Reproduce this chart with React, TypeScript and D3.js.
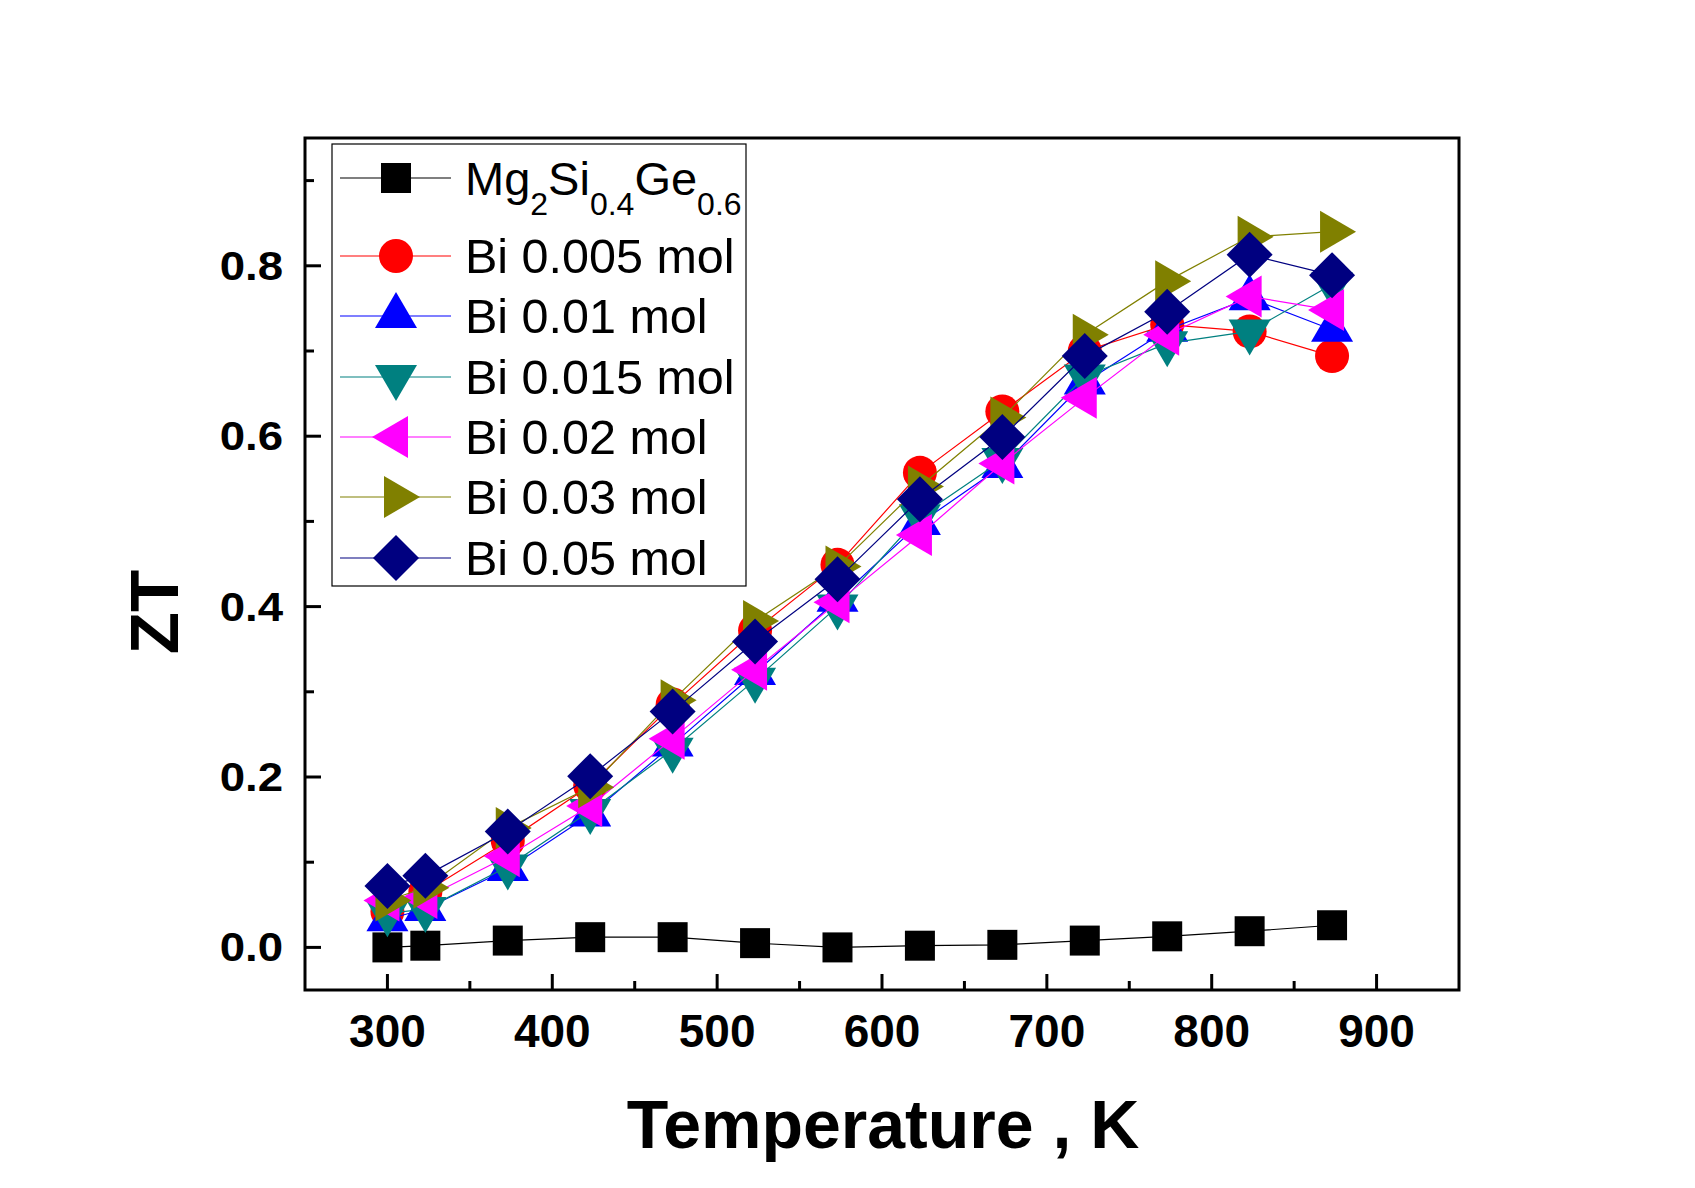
import React from 'react';
import * as d3 from 'd3';

// ---- data ----
const temperatures = [300, 323, 373, 423, 473, 523, 573, 623, 673, 723, 773, 823, 873];
const ztUndoped = [0.0, 0.002, 0.008, 0.012, 0.012, 0.005, 0.0, 0.002, 0.003, 0.008, 0.013, 0.019, 0.026];
const ztBi0005 = [0.042, 0.065, 0.125, 0.19, 0.285, 0.372, 0.449, 0.557, 0.629, 0.7, 0.731, 0.723, 0.694];
const ztBi001 = [0.033, 0.045, 0.092, 0.156, 0.238, 0.322, 0.408, 0.498, 0.565, 0.663, 0.725, 0.762, 0.725];
const ztBi0015 = [0.04, 0.045, 0.095, 0.16, 0.232, 0.314, 0.4, 0.506, 0.572, 0.67, 0.709, 0.723, 0.778];
const ztBi002 = [0.055, 0.058, 0.107, 0.166, 0.245, 0.326, 0.405, 0.484, 0.568, 0.645, 0.719, 0.764, 0.748];
const ztBi003 = [0.055, 0.07, 0.14, 0.188, 0.29, 0.383, 0.447, 0.541, 0.622, 0.719, 0.782, 0.834, 0.84];
const ztBi005 = [0.072, 0.084, 0.136, 0.201, 0.277, 0.359, 0.432, 0.526, 0.599, 0.694, 0.746, 0.813, 0.789];

const seriesLabels = ['Mg2Si0.4Ge0.6', 'Bi 0.005 mol', 'Bi 0.01 mol', 'Bi 0.015 mol', 'Bi 0.02 mol', 'Bi 0.03 mol', 'Bi 0.05 mol'];
const seriesValues = [ztUndoped, ztBi0005, ztBi001, ztBi0015, ztBi002, ztBi003, ztBi005];
const seriesColors = ['#000000', '#ff0000', '#0000ff', '#008080', '#ff00ff', '#808000', '#000080'];
const seriesShapes = ['square', 'circle', 'up', 'down', 'left', 'right', 'diamond'];

const xMajorTicks = [300, 400, 500, 600, 700, 800, 900];
const xMinorTicks = [350, 450, 550, 650, 750, 850];
const yMajorTicks = [0, 0.2, 0.4, 0.6, 0.8];
const yMinorTicks = [0.1, 0.3, 0.5, 0.7, 0.9];

// ---- layout ----
const W = 1695;
const H = 1188;
const L = 305, R = 1459, T = 138, B = 990;

function markerPath(shape: string): string {
  switch (shape) {
    case 'square': return 'M-15,-15H15V15H-15Z';
    case 'circle': return 'M17,0A17,17 0 1,1 -17,0A17,17 0 1,1 17,0Z';
    case 'up': return 'M0,-24L21,12L-21,12Z';
    case 'down': return 'M0,24L21,-12L-21,-12Z';
    case 'left': return 'M-24,0L12,-21L12,21Z';
    case 'right': return 'M24,0L-12,-21L-12,21Z';
    case 'diamond': return 'M0,-23L23,0L0,23L-23,0Z';
  }
  return '';
}

export default function App() {
  const x = d3.scaleLinear().domain([250, 950]).range([L, R]);
  const y = d3.scaleLinear().domain([-0.05, 0.95]).range([B, T]);
  const line = d3.line<[number, number]>().x(d => x(d[0])).y(d => y(d[1]));
  const fmt = d3.format('.1f');
  const font = '"Liberation Sans", Arial, sans-serif';

  const legendRows = [178, 256, 316, 377, 437, 497, 558];

  return (
    <svg width={W} height={H} style={{ position: 'absolute', left: 0, top: 0, background: '#fff' }} fontFamily={font}>
      <rect x={0} y={0} width={W} height={H} fill="#fff" />
      {/* series */}
      {seriesValues.map((vals, si) => {
        const pts = temperatures.map((t, i) => [t, vals[i]] as [number, number]);
        return (
          <g key={si}>
            <path d={line(pts) || ''} fill="none" stroke={seriesColors[si]} strokeWidth={1.2} />
            {pts.map((p, i) => (
              <path key={i} d={markerPath(seriesShapes[si])} transform={`translate(${x(p[0])},${y(p[1])})`} fill={seriesColors[si]} />
            ))}
          </g>
        );
      })}
      {/* frame */}
      <rect x={L} y={T} width={R - L} height={B - T} fill="none" stroke="#000" strokeWidth={3} />
      {/* x ticks */}
      {xMajorTicks.map(t => (
        <g key={'xm' + t}>
          <line x1={x(t)} x2={x(t)} y1={B} y2={B - 16} stroke="#000" strokeWidth={3} />
          <text x={x(t)} y={1047} textAnchor="middle" fontSize={46} fontWeight="bold">{t}</text>
        </g>
      ))}
      {xMinorTicks.map(t => (
        <line key={'xn' + t} x1={x(t)} x2={x(t)} y1={B} y2={B - 9} stroke="#000" strokeWidth={3} />
      ))}
      {/* y ticks */}
      {yMajorTicks.map(t => (
        <g key={'ym' + t}>
          <line x1={L} x2={L + 16} y1={y(t)} y2={y(t)} stroke="#000" strokeWidth={3} />
          <text transform={`translate(283,${y(t) + 14}) scale(1.14,1)`} textAnchor="end" fontSize={40} fontWeight="bold">{fmt(t)}</text>
        </g>
      ))}
      {yMinorTicks.map(t => (
        <line key={'yn' + t} x1={L} x2={L + 9} y1={y(t)} y2={y(t)} stroke="#000" strokeWidth={3} />
      ))}
      {/* axis titles */}
      <text x={883} y={1148} textAnchor="middle" fontSize={68} fontWeight="bold">Temperature , K</text>
      <text transform="translate(178,612) rotate(-90)" textAnchor="middle" fontSize={69} fontWeight="bold">ZT</text>
      {/* legend */}
      <rect x={332} y={144} width={414} height={442} fill="#fff" stroke="#000" strokeWidth={1.2} />
      {seriesLabels.map((lab, si) => {
        const cy = legendRows[si];
        return (
          <g key={'lg' + si}>
            <line x1={340} x2={451} y1={cy} y2={cy} stroke={seriesColors[si]} strokeWidth={1.2} />
            <path d={markerPath(seriesShapes[si])} transform={`translate(396,${cy})`} fill={seriesColors[si]} />
            {si === 0 ? (
              <text x={465} y={195} fontSize={47}>
                Mg<tspan fontSize={32} dy={20}>2</tspan>
                <tspan dy={-20}>Si</tspan>
                <tspan fontSize={32} dy={20}>0.4</tspan>
                <tspan dy={-20}>Ge</tspan>
                <tspan fontSize={32} dy={20}>0.6</tspan>
              </text>
            ) : (
              <text x={465} y={cy + 17} fontSize={48.5}>{lab}</text>
            )}
          </g>
        );
      })}
    </svg>
  );
}
